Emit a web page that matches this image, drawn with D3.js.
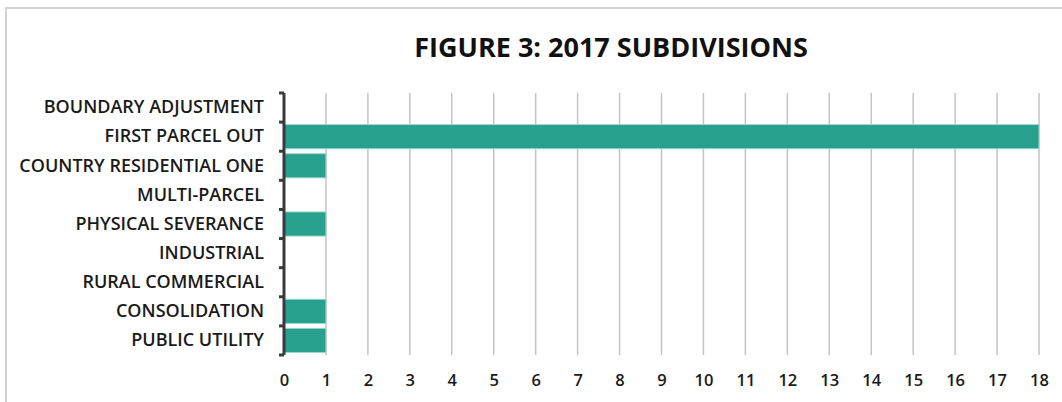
<!DOCTYPE html>
<html>
<head>
<meta charset="utf-8">
<script src="https://cdn.jsdelivr.net/npm/d3@7"></script>
<style>
  body { margin: 0; background: #fff; }
  svg { display: block; }
  text { font-family: "Open Sans", sans-serif; }
</style>
</head>
<body>
<div id="chart"></div>
<script>
const categories = [
    'BOUNDARY ADJUSTMENT',
    'FIRST PARCEL OUT',
    'COUNTRY RESIDENTIAL ONE',
    'MULTI-PARCEL',
    'PHYSICAL SEVERANCE',
    'INDUSTRIAL',
    'RURAL COMMERCIAL',
    'CONSOLIDATION',
    'PUBLIC UTILITY'
];
const counts = [0, 18, 1, 0, 1, 0, 0, 1, 1];
const xTicks = d3.range(0, 19);
const chartTitle = 'FIGURE 3: 2017 SUBDIVISIONS';

const W = 1062, H = 402;
const margin = { top: 93, right: 23, bottom: 47, left: 284 };
const width = W - margin.left - margin.right;
const height = H - margin.top - margin.bottom;

const svg = d3.select('#chart').append('svg')
    .attr('width', W)
    .attr('height', H);

// frame border (top + left only visible)
svg.append('path')
    .attr('d', `M6,${H} V8 H${W}`)
    .attr('fill', 'none')
    .attr('stroke', '#d2d2d2')
    .attr('stroke-width', 2);

svg.append('text')
    .attr('x', 611)
    .attr('y', 57)
    .attr('text-anchor', 'middle')
    .attr('font-size', '27px')
    .attr('font-weight', 'bold')
    .attr('fill', '#111')
    .text(chartTitle);

const g = svg.append('g')
    .attr('transform', `translate(${margin.left},${margin.top})`);

const x = d3.scaleLinear()
    .domain([0, 18])
    .range([0, width]);

const y = d3.scaleBand()
    .domain(categories)
    .range([0, height])
    .paddingInner(0.17)
    .paddingOuter(0.085);

// vertical grid lines
g.append('g')
    .selectAll('line')
    .data(xTicks.filter(d => d > 0))
    .enter()
    .append('line')
    .attr('x1', d => x(d))
    .attr('x2', d => x(d))
    .attr('y1', 0)
    .attr('y2', height)
    .attr('stroke', '#c4c4c4')
    .attr('stroke-width', 1.5);

// bars
g.selectAll('.bar')
    .data(categories.map((c, i) => ({ c, v: counts[i] })).filter(d => d.v > 0))
    .enter()
    .append('rect')
    .attr('class', 'bar')
    .attr('x', 0)
    .attr('y', d => y(d.c))
    .attr('width', d => x(d.v))
    .attr('height', y.bandwidth())
    .attr('fill', '#27a08e')
    .attr('stroke', '#9fd6cc')
    .attr('stroke-width', 1);

// y axis
const yAxis = g.append('g')
    .call(d3.axisLeft(y).tickSize(0).tickPadding(20));
yAxis.select('.domain').remove();
yAxis.selectAll('text')
    .attr('font-size', '18px')
    .attr('font-weight', '600')
    .attr('fill', '#1a1a1a');

// axis line with boundary ticks
const step = height / categories.length;
g.append('line')
    .attr('x1', 0).attr('x2', 0)
    .attr('y1', 0).attr('y2', height)
    .attr('stroke', '#3a3a3a')
    .attr('stroke-width', 3);
g.append('g')
    .selectAll('line')
    .data(d3.range(0, categories.length + 1))
    .enter()
    .append('line')
    .attr('x1', -5).attr('x2', 0)
    .attr('y1', d => d * step)
    .attr('y2', d => d * step)
    .attr('stroke', '#3a3a3a')
    .attr('stroke-width', 3);

// x axis labels
const xAxis = g.append('g')
    .attr('transform', `translate(0,${height})`)
    .call(d3.axisBottom(x).tickValues(xTicks).tickSize(0).tickPadding(19).tickFormat(d3.format('d')));
xAxis.select('.domain').remove();
xAxis.selectAll('text')
    .attr('font-size', '16.5px')
    .attr('font-weight', '600')
    .attr('fill', '#1a1a1a');
</script>
</body>
</html>
